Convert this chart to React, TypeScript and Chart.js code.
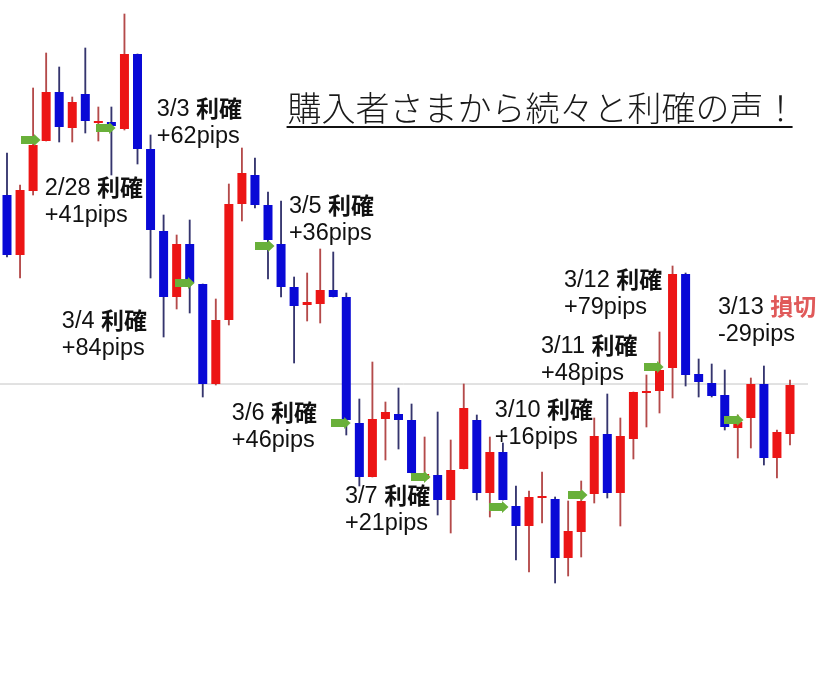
import React, { useEffect, useRef } from "react";
import { Chart, registerables } from "chart.js";

Chart.register(...registerables);

// OHLC values (price units)
const opens = [495, 435, 499, 549, 598, 562, 596, 567, 568, 561, 636, 541, 459, 393, 446, 406, 306, 370, 486, 515, 485, 446, 403, 385, 386, 400, 393, 267, 213, 271, 276, 270, 211, 215, 190, 221, 270, 197, 238, 184, 164, 192, 191, 132, 158, 196, 256, 197, 251, 297, 299, 322, 416, 316, 307, 295, 262, 272, 306, 232, 256];
const highs = [537, 505, 602, 637, 623, 593, 642, 583, 583, 676, 636, 555, 475, 455, 470, 406, 391, 506, 542, 532, 498, 489, 413, 417, 441, 438, 397, 291, 328, 288, 302, 286, 253, 278, 250, 306, 275, 253, 247, 204, 199, 218, 193, 189, 209, 272, 296, 272, 298, 315, 358, 424, 417, 331, 326, 320, 275, 312, 324, 260, 310];
const lows = [433, 412, 495, 549, 548, 548, 557, 549, 515, 560, 526, 412, 353, 381, 377, 293, 305, 365, 469, 482, 411, 393, 327, 369, 367, 393, 255, 204, 213, 230, 241, 217, 210, 175, 157, 221, 190, 173, 190, 130, 118, 167, 107, 114, 133, 187, 192, 164, 231, 263, 277, 292, 304, 293, 293, 260, 232, 242, 225, 212, 245];
const closes = [435, 500, 545, 598, 563, 588, 569, 569, 564, 636, 541, 460, 393, 446, 407, 306, 370, 486, 517, 485, 450, 403, 384, 388, 400, 393, 270, 213, 271, 278, 270, 217, 216, 190, 220, 282, 197, 238, 190, 164, 193, 194, 132, 159, 189, 254, 197, 254, 298, 299, 320, 416, 315, 308, 294, 263, 268, 306, 232, 258, 305];

// Entry arrows (candle index, price)
const arrowIdx = [1.84, 7.59, 13.64, 19.77, 25.6, 31.72, 37.7, 43.75, 49.58, 55.7];
const arrowPrice = [550, 562, 407, 444, 267, 213, 183, 195, 323, 270];

// Result notes
const noteDates = ["2/28", "3/3", "3/4", "3/5", "3/6", "3/7", "3/10", "3/11", "3/12", "3/13"];
const noteResults = ["利確", "利確", "利確", "利確", "利確", "利確", "利確", "利確", "利確", "損切"];
const notePips = ["+41pips", "+62pips", "+84pips", "+36pips", "+46pips", "+21pips", "+16pips", "+48pips", "+79pips", "-29pips"];
const noteIdx = [2.9, 11.48, 4.2, 21.6, 17.23, 25.9, 37.38, 40.92, 42.68, 54.48];
const notePrice = [503, 582, 370, 485, 278, 195, 281, 345, 411, 384];

const titleText = "購入者さまから続々と利確の声！";
const titleIdx = 21.5;
const titlePrice = 582;

const referencePrice = 306;
const referenceFrom = -0.6;
const referenceTo = 61.38;

const RED = "#ec1515";
const BLUE = "#0909d6";
const RED_WICK = "#b44a4a";
const BLUE_WICK = "#35356e";

function makeArrow(): HTMLCanvasElement {
  const c = document.createElement("canvas");
  c.width = 20;
  c.height = 12;
  const g = c.getContext("2d")!;
  g.fillStyle = "#69b03a";
  g.beginPath();
  g.moveTo(0, 2);
  g.lineTo(13, 2);
  g.lineTo(13, 0);
  g.lineTo(19.5, 6);
  g.lineTo(13, 12);
  g.lineTo(13, 10);
  g.lineTo(0, 10);
  g.closePath();
  g.fill();
  return c;
}

const notesPlugin = {
  id: "notes",
  afterDatasetsDraw(chart: any) {
    const { ctx, scales } = chart;
    const xs = scales.x;
    const ys = scales.y;
    ctx.save();
    ctx.textAlign = "left";

    // title
    const tx = xs.getPixelForValue(titleIdx);
    const ty = ys.getPixelForValue(titlePrice);
    ctx.textBaseline = "middle";
    ctx.font = "300 34px 'Noto Sans CJK JP', sans-serif";
    ctx.fillStyle = "#1a1a1a";
    ctx.fillText(titleText, tx, ty);
    const tw = ctx.measureText(titleText).width;
    ctx.fillStyle = "#111";
    ctx.fillRect(tx - 1, ty + 18, tw - 4, 2);

    ctx.textBaseline = "alphabetic";
    noteDates.forEach((d, k) => {
      const px = xs.getPixelForValue(noteIdx[k]);
      const py = ys.getPixelForValue(notePrice[k]);
      const base = py + 8;
      ctx.font = "23.5px 'Liberation Sans', Arial, sans-serif";
      ctx.fillStyle = "#111";
      const head = d + " ";
      ctx.fillText(head, px, base);
      const w = ctx.measureText(head).width;
      ctx.font = "bold 23px 'Noto Sans CJK JP', sans-serif";
      ctx.fillStyle = noteResults[k] === "損切" ? "#e05a5a" : "#111";
      ctx.fillText(noteResults[k], px + w, base + 1);
      ctx.font = "23.5px 'Liberation Sans', Arial, sans-serif";
      ctx.fillStyle = "#111";
      ctx.fillText(notePips[k], px, base + 27);
    });
    ctx.restore();
  },
};

export default function App() {
  const ref = useRef<HTMLCanvasElement | null>(null);

  useEffect(() => {
    if (!ref.current) return;
    const idx = opens.map((_, i) => i);
    const isUp = idx.map((i) => closes[i] >= opens[i]);
    const bodies = idx.map((i) => ({ x: i, y: [opens[i], closes[i]] }));
    const wicks = idx.map((i) => ({ x: i, y: [lows[i], highs[i]] }));
    const arrows = arrowIdx.map((a, k) => ({ x: a, y: arrowPrice[k] }));
    const arrowImg = makeArrow();

    const chart = new Chart(ref.current, {
      type: "bar",
      data: {
        datasets: [
          {
            type: "scatter",
            data: arrows,
            pointStyle: arrowImg as any,
            order: 0,
          } as any,
          {
            type: "bar",
            data: bodies as any,
            backgroundColor: isUp.map((u) => (u ? RED : BLUE)),
            barThickness: 9,
            grouped: false,
            borderWidth: 0,
            inflateAmount: 0,
            order: 1,
          },
          {
            type: "bar",
            data: wicks as any,
            backgroundColor: isUp.map((u) => (u ? RED_WICK : BLUE_WICK)),
            barThickness: 1.2,
            grouped: false,
            borderWidth: 0,
            order: 2,
          },
          {
            type: "line",
            data: [
              { x: referenceFrom, y: referencePrice },
              { x: referenceTo, y: referencePrice },
            ],
            borderColor: "#c4c4c4",
            borderWidth: 1,
            pointRadius: 0,
            order: 3,
          } as any,
        ],
      },
      options: {
        animation: false,
        responsive: false,
        maintainAspectRatio: false,
        events: [],
        layout: { padding: 0, autoPadding: false },
        plugins: { legend: { display: false }, tooltip: { enabled: false } },
        scales: {
          x: { type: "linear", display: false, offset: false, min: -0.5364, max: 63.295 },
          y: { type: "linear", display: false, min: 0, max: 690 },
        },
      },
      plugins: [notesPlugin],
    });
    return () => chart.destroy();
  }, []);

  return (
    <div style={{ position: "absolute", left: 0, top: 0, width: 833, height: 690, background: "#fff" }}>
      <canvas ref={ref} width={833} height={690} style={{ display: "block" }} />
    </div>
  );
}
